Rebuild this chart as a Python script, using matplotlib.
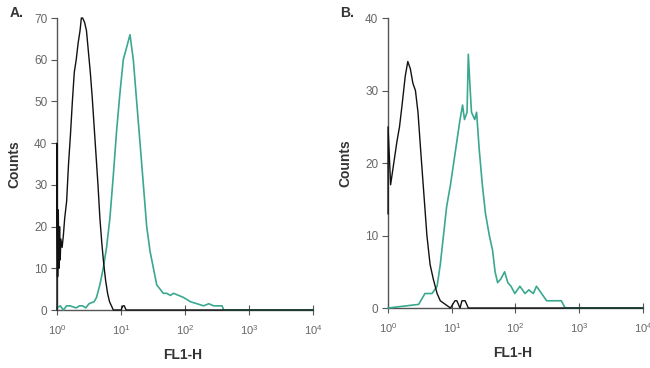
import numpy as np
import matplotlib.pyplot as plt
from matplotlib.ticker import LogLocator, NullLocator

plt.rcParams['font.family'] = ['Liberation Sans', 'DejaVu Sans']

# log10 fluorescence positions and counts
a_black_lx = [0.0, 0.0, 0.01, 0.02, 0.03, 0.04, 0.05, 0.06, 0.08, 0.10, 0.12, 0.15, 0.18, 0.21, 0.24,
              0.27, 0.30, 0.33, 0.36, 0.38, 0.40, 0.43, 0.46, 0.49, 0.52, 0.55, 0.58, 0.61, 0.64,
              0.67, 0.70, 0.73, 0.76, 0.79, 0.82, 0.85, 0.88, 1.0, 1.03, 1.05, 1.08, 4.0]
a_black_ct = [0, 40, 8, 24, 10, 20, 12, 17, 15, 18, 22, 26, 35, 42, 50,
              57, 60, 64, 67, 70, 70, 69, 67, 62, 57, 51, 44, 37, 30,
              22, 16, 11, 7, 4, 2, 1, 0, 0, 1, 1, 0, 0]

a_green_lx = [0.0, 0.05, 0.1, 0.15, 0.2, 0.3, 0.35, 0.4, 0.45, 0.5, 0.58, 0.617, 0.669, 0.722, 0.774,
              0.826, 0.878, 0.931, 0.983, 1.035, 1.088, 1.14, 1.192, 1.244, 1.297, 1.349, 1.401,
              1.454, 1.506, 1.558, 1.61, 1.66, 1.715, 1.77, 1.82, 1.9, 1.976, 2.03, 2.081, 2.186,
              2.29, 2.37, 2.447, 2.52, 2.578, 2.604, 4.0]
a_green_ct = [0.5, 1, 0, 1, 1, 0.5, 1, 1, 0.5, 1.5, 2, 3, 6, 10, 15,
              22, 32, 43, 52, 60, 63, 66, 60, 50, 40, 30, 20,
              14, 10, 6, 5, 4, 4, 3.5, 4, 3.5, 3, 2.5, 2, 1.5,
              1, 1.5, 1, 1, 1, 0, 0]

b_black_lx = [0.0, 0.0, 0.04, 0.09, 0.14, 0.18, 0.22, 0.27, 0.31, 0.35, 0.39, 0.43, 0.47, 0.51,
              0.56, 0.61, 0.66, 0.71, 0.77, 0.82, 0.90, 0.98, 1.05, 1.08, 1.13, 1.16, 1.21, 1.26, 4.0]
b_black_ct = [13, 25, 17, 20, 23, 25, 28, 32, 34, 33, 31, 30, 27, 22,
              16, 10, 6, 4, 2, 1, 0.5, 0, 1, 1, 0, 1, 1, 0, 0]

b_green_lx = [0.0, 0.48, 0.58, 0.69, 0.77, 0.82, 0.87, 0.92, 0.98, 1.03, 1.08, 1.13, 1.17, 1.20,
              1.24, 1.26, 1.29, 1.31, 1.36, 1.39, 1.43, 1.48, 1.53, 1.59, 1.64, 1.68, 1.72, 1.77,
              1.83, 1.88, 1.93, 1.99, 2.07, 2.15, 2.21, 2.28, 2.33, 2.41, 2.49, 2.62, 2.72, 2.78, 4.0]
b_green_ct = [0, 0.5, 2, 2, 3, 6, 10, 14, 17, 20, 23, 26, 28, 26,
              27, 35, 30, 27, 26, 27, 22, 17, 13, 10, 8, 5, 3.5, 4,
              5, 3.5, 3, 2, 3, 2, 2.5, 2, 3, 2, 1, 1, 1, 0, 0]

panels = [
    ("A.", [0.0877, 0.1576, 0.394, 0.7934], 70, a_black_lx, a_black_ct, a_green_lx, a_green_ct, 0.015),
    ("B.", [0.597, 0.163, 0.392, 0.788], 40, b_black_lx, b_black_ct, b_green_lx, b_green_ct, 0.523),
]

GREEN = '#3aa88f'
SPINE = '#555555'
TXT = '#666666'

fig = plt.figure(figsize=(6.5, 3.68), dpi=100)
for name, rect, ymax, bx, by, gx, gy, lab_x in panels:
    ax = fig.add_axes(rect)
    ax.plot(10 ** np.array(gx), gy, color=GREEN, lw=1.2, clip_on=False, zorder=5)
    ax.plot(10 ** np.array(bx), by, color='#111111', lw=1.0, clip_on=False, zorder=6)
    ax.set_xscale('log')
    ax.set_xlim(1, 1e4)
    ax.set_ylim(0, ymax)
    ax.set_yticks(np.arange(0, ymax + 1, 10))
    ax.xaxis.set_major_locator(LogLocator(base=10, numticks=5))
    ax.xaxis.set_minor_locator(NullLocator())
    for s in ['top', 'right']:
        ax.spines[s].set_visible(False)
    for s in ['left', 'bottom']:
        ax.spines[s].set_color(SPINE)
        ax.spines[s].set_linewidth(1.0)
    ax.tick_params(axis='x', direction='inout', length=7, color=SPINE, labelsize=8, labelcolor=TXT, pad=6)
    ax.tick_params(axis='y', direction='out', length=4, color=SPINE, labelsize=8.5, labelcolor=TXT, pad=3)
    ax.set_ylabel('Counts', fontsize=10, fontweight='bold', color='#333333')
    ax.yaxis.set_label_coords(-0.14, 0.5)
    ax.set_xlabel('FL1-H', fontsize=10, fontweight='bold', color='#333333')
    ax.xaxis.set_label_coords(0.49, -0.13)
    fig.text(lab_x, 0.965, name, fontsize=10, fontweight='bold', color='#333333', va='center')

fig.savefig('out.png', dpi=100)
